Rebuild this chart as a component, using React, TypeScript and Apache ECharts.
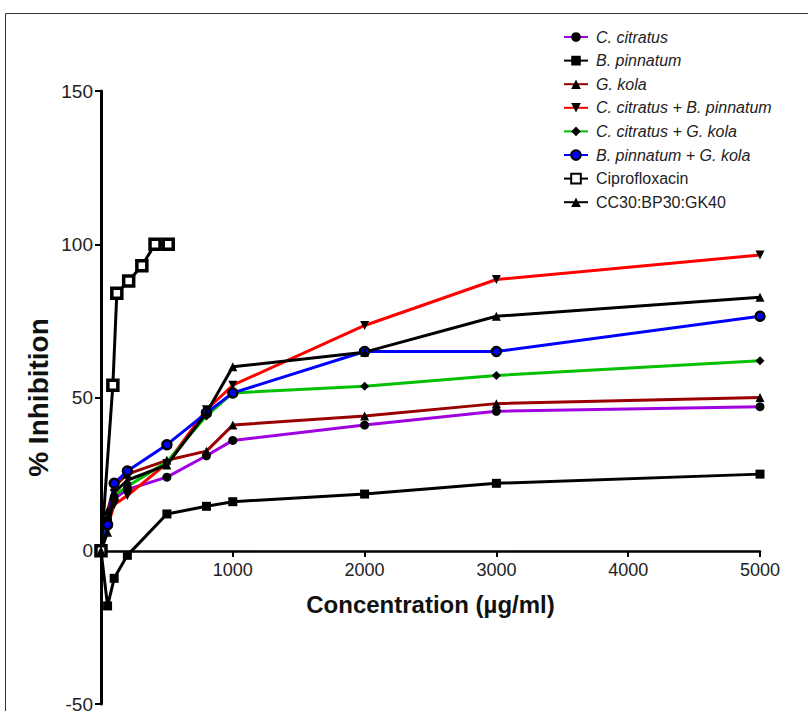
import React, { useEffect, useRef } from "react";
import * as echarts from "echarts";

const extractConc = [0, 50, 100, 200, 500, 800, 1000, 2000, 3000, 5000];
const cCitratus = [0, 10, 17, 20, 24, 31, 36, 41, 45.5, 47];
const bPinnatum = [0, -18, -9, -1.5, 12, 14.5, 16, 18.5, 22, 25];
const gKola = [0, 13, 21, 25, 29.5, 32.5, 41, 44, 48, 50];
const ccBp = [0, 8, 15, 18, 28.5, 46, 54, 73.5, 88.5, 96.5];
const ccGk = [0, 9, 18, 21, 29, 44, 51.5, 53.7, 57.2, 62];
const bpGk = [0, 8.5, 22, 26, 34.6, 45, 51.5, 65, 65, 76.5];
const cc30 = [0, 6, 19, 23, 28, 45, 60, 64.8, 76.5, 82.7];
const ciproConc = [0, 90, 120, 210, 310, 410, 510];
const cipro = [0, 54, 84, 88, 93, 100, 100];

const seriesNames = [
  "C. citratus",
  "B. pinnatum",
  "G. kola",
  "C. citratus + B. pinnatum",
  "C. citratus + G. kola",
  "B. pinnatum + G. kola",
  "Ciprofloxacin",
  "CC30:BP30:GK40",
];
const italicNames = seriesNames.slice(0, 6);

const pair = (xs: number[], ys: number[]) => xs.map((x, i) => [x, ys[i]]);

export default function App() {
  const ref = useRef<HTMLDivElement>(null);
  useEffect(() => {
    if (!ref.current) return;
    const chart = echarts.init(ref.current, null, { renderer: "svg" });
    const mk = (
      name: string,
      data: number[][],
      lineColor: string,
      symbol: string,
      extra: any = {}
    ) => ({
      name,
      type: "line",
      data,
      symbol,
      symbolSize: extra.symbolSize || 9,
      showSymbol: true,
      lineStyle: { color: lineColor, width: 3 },
      itemStyle: { color: "#000", ...(extra.itemStyle || {}) },
      symbolRotate: extra.symbolRotate || 0,
      z: extra.z || 2,
    });
    const font = "Arial, 'Liberation Sans', sans-serif";
    chart.setOption({
      animation: false,
      backgroundColor: "#fff",
      graphic: [
        {
          type: "rect",
          shape: { x: 5.5, y: 13.5, width: 900, height: 900 },
          style: { fill: "none", stroke: "#333", lineWidth: 1 },
          silent: true,
        },
      ],
      grid: {
        left: 101,
        top: 91,
        width: 659,
        height: 613,
        containLabel: false,
        outerBoundsMode: "none",
      },
      legend: {
        orient: "vertical",
        left: 558,
        top: 24,
        itemWidth: 24,
        itemHeight: 12,
        itemGap: 7.6,
        data: seriesNames,
        formatter: (name: string) =>
          italicNames.includes(name) ? `{i|${name}}` : `{n|${name}}`,
        textStyle: {
          rich: {
            i: {
              fontStyle: "italic",
              fontSize: 16,
              fontFamily: font,
              color: "#222",
              lineHeight: 18,
              padding: [0, 0, 0, 3],
            },
            n: {
              fontSize: 16,
              fontFamily: font,
              color: "#222",
              lineHeight: 18,
              padding: [0, 0, 0, 3],
            },
          },
        },
      },
      xAxis: {
        type: "value",
        min: 0,
        max: 5000,
        interval: 1000,
        position: "bottom",
        offset: -153,
        name: "Concentration (µg/ml)",
        nameLocation: "middle",
        nameGap: 41,
        nameMoveOverlap: false,
        nameTextStyle: { fontSize: 24, fontWeight: "bold", fontFamily: font, color: "#111" },
        splitLine: { show: false },
        axisLine: { onZero: false, lineStyle: { color: "#000", width: 2.5 } },
        axisTick: { show: true, length: 6, lineStyle: { color: "#000", width: 2 } },
        axisLabel: {
          fontSize: 18,
          fontFamily: font,
          color: "#222",
          margin: 10,
          formatter: (v: number) => (v === 0 ? "" : String(v)),
        },
      },
      yAxis: {
        type: "value",
        min: -50,
        max: 150,
        interval: 50,
        name: "% Inhibition",
        nameLocation: "middle",
        nameGap: 49,
        nameMoveOverlap: false,
        nameTextStyle: { fontSize: 28, fontWeight: "bold", fontFamily: font, color: "#111" },
        splitLine: { show: false },
        axisLine: { show: true, onZero: false, lineStyle: { color: "#000", width: 3 } },
        axisTick: { show: true, length: 6, lineStyle: { color: "#000", width: 2 } },
        axisLabel: { fontSize: 19, fontFamily: font, color: "#222", margin: 8 },
      },
      series: [
        mk(seriesNames[0], pair(extractConc, cCitratus), "#a000e0", "circle"),
        mk(seriesNames[1], pair(extractConc, bPinnatum), "#000", "rect"),
        mk(seriesNames[2], pair(extractConc, gKola), "#990000", "triangle"),
        mk(seriesNames[3], pair(extractConc, ccBp), "#ff0000", "triangle", { symbolRotate: 180 }),
        mk(seriesNames[4], pair(extractConc, ccGk), "#00c000", "diamond"),
        mk(seriesNames[5], pair(extractConc, bpGk), "#0000ff", "circle", {
          itemStyle: { color: "#0000ff", borderColor: "#000", borderWidth: 2.5 },
        }),
        mk(seriesNames[6], pair(ciproConc, cipro), "#000", "rect", {
          symbolSize: 10,
          itemStyle: { color: "#fff", borderColor: "#000", borderWidth: 3.5 },
        }),
        mk(seriesNames[7], pair(extractConc, cc30), "#000", "triangle"),
      ],
    });
    return () => chart.dispose();
  }, []);
  return <div ref={ref} style={{ width: 808, height: 711, position: "absolute", left: 0, top: 0 }} />;
}
